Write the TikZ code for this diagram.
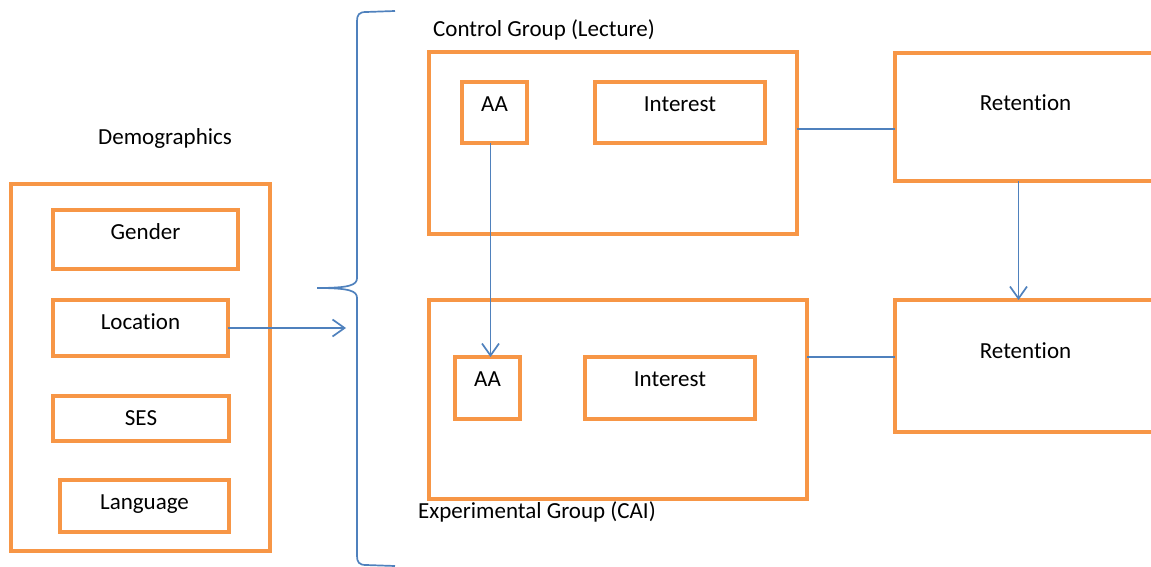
\documentclass[tikz,border=0pt]{standalone}
\usepackage{fontspec}
\setmainfont[Ligatures=NoCommon]{Carlito}
\usetikzlibrary{positioning,arrows.meta}
\definecolor{boxorange}{HTML}{F79646}
\definecolor{lineblue}{HTML}{4F81BD}

\begin{document}
\begin{tikzpicture}[x=1pt,y=-1pt,>={Straight Barb[length=12pt,width=17pt]},
  box/.style={draw=boxorange,line width=4pt,inner sep=0pt,outer sep=0pt,anchor=north west},
  lbl/.style={anchor=base,inner sep=0pt,font=\fontsize{23}{27}\selectfont},
  link/.style={draw=lineblue,line width=1.7pt}]

\useasboundingbox (0,0) rectangle (1151,567);

%---------------------------------
% DEMOGRAPHICS
%---------------------------------
\node[lbl] (demo-t) at (165,145) {Demographics};
\node[box,minimum width=259,minimum height=367] (demo) at (11,184) {};

\node[box,minimum width=185,minimum height=59] (gender) at (53,210) {};
\node[box,minimum width=175,minimum height=56] (location) at (53,300) {};
\node[box,minimum width=176,minimum height=45] (ses) at (53,396) {};
\node[box,minimum width=169,minimum height=52] (language) at (60,480) {};

\node[lbl] (gender-t) at ([yshift=-29.5pt]gender.north) {Gender};
\node[lbl] (location-t) at ([yshift=-29.5pt]location.north) {Location};
\node[lbl] (ses-t) at ([yshift=-29.5pt]ses.north) {SES};
\node[lbl] (language-t) at ([yshift=-29pt]language.north) {Language};

% brace round both groups
\draw[link] (395,11) -- (366,12) .. controls (359,12) and (357,15) .. (357,21)
  -- (357,278) .. controls (357,285) and (350,288) .. (317,288)
  .. controls (350,288) and (357,291) .. (357,298)
  -- (357,556) .. controls (357,562) and (359,565) .. (366,565) -- (395,566);

\coordinate (bracein) at (346,326);
\draw[link,->] (location.east) -- (location.east -| bracein);

%---------------------------------
% CONTROL GROUP
%---------------------------------
\node[lbl,anchor=base west] (control-t) at (433,37) {Control Group (Lecture)};
\node[box,minimum width=368,minimum height=182] (control) at (429,52) {};
\node[box,minimum width=65,minimum height=61] (aa1) at (462,82) {};
\node[box,minimum width=170,minimum height=61] (int1) at (595,82) {};
\node[box,minimum width=261,minimum height=128] (ret1) at (895,53) {};

\node[lbl] (aa1-t) at ([yshift=-29.5pt]aa1.north) {AA};
\node[lbl] (int1-t) at ([yshift=-29.5pt]int1.north) {Interest};
\node[lbl] (ret1-t) at ([yshift=-58pt]ret1.north) {Retent\kern0pt ion};

%---------------------------------
% EXPERIMENTAL GROUP
%---------------------------------
\node[lbl,anchor=base west] (exp-t) at (418,518) {Experimental Group (CAI)};
\node[box,minimum width=378,minimum height=199] (exp) at (429,300) {};
\node[box,minimum width=65,minimum height=62] (aa2) at (455,357) {};
\node[box,minimum width=170,minimum height=62] (int2) at (585,357) {};
\node[box,minimum width=261,minimum height=132] (ret2) at (895,300) {};

\node[lbl] (aa2-t) at ([yshift=-29.5pt]aa2.north) {AA};
\node[lbl] (int2-t) at ([yshift=-29.5pt]int2.north) {Interest};
\node[lbl] (ret2-t) at ([yshift=-58pt]ret2.north) {Retent\kern0pt ion};

% connectors
\coordinate (c1) at ([yshift=14pt]control.east);
\draw[link] (c1) -- (c1 -| ret1.west);
\coordinate (c2) at ([yshift=42.5pt]exp.east);
\draw[link] (c2) -- (c2 -| ret2.west);

\coordinate (a1) at ([xshift=-4pt]aa1.south);
\draw[link,->] (a1) -- (a1 |- aa2.north);
\coordinate (r1) at ([xshift=-7pt]ret1.south);
\draw[link,->] (r1) -- (r1 |- ret2.north);

\end{tikzpicture}
\end{document}
